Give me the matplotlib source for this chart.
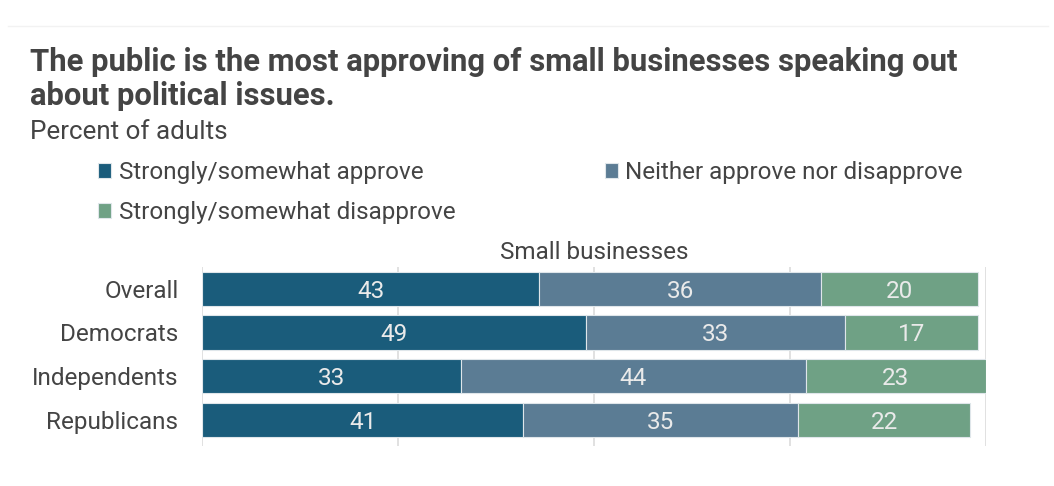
import matplotlib
matplotlib.use("Agg")
import matplotlib.pyplot as plt
from matplotlib.lines import Line2D
import numpy as np

plt.rcParams['font.family'] = ['Roboto', 'DejaVu Sans']

categories = ["Overall", "Democrats", "Independents", "Republicans"]
approve = [43, 49, 33, 41]
neither = [36, 33, 44, 35]
disapprove = [20, 17, 23, 22]
series_names = ["Strongly/somewhat approve", "Neither approve nor disapprove",
                "Strongly/somewhat disapprove"]
colors = ["#1a5c7b", "#5b7c94", "#6fa185"]
panel_title = "Small businesses"
title_lines = ["The public is the most approving of small businesses speaking out",
               "about political issues."]
subtitle = "Percent of adults"
grid_ticks = [0, 25, 50, 75, 100]

TXT = "#444444"
FS = 17.5

W, H = 1054, 486
fig = plt.figure(figsize=(W / 100, H / 100), dpi=100)

def fx(px):
    return px / W

def fy(py):
    return 1 - py / H

ax = fig.add_axes([fx(202), fy(446), fx(986) - fx(202), fy(267) - fy(446)])

y = np.arange(len(categories))
left = np.zeros(len(categories))
handles = []
for vals, c, name in zip([approve, neither, disapprove], colors, series_names):
    bars = ax.barh(y, vals, left=left, height=0.78, color=c, edgecolor="#dfe6ea",
                   linewidth=0.8, label=name, zorder=2)
    handles.append(bars)
    for b, v in zip(bars, vals):
        ax.text(b.get_x() + b.get_width() / 2, b.get_y() + b.get_height() / 2, f"{v}",
                ha="center", va="center_baseline", color="#eaeaea", fontsize=FS, zorder=3)
    left = left + np.array(vals)

ax.set_xlim(0, 100)
ax.set_ylim(3.6, -0.5)
ax.set_xticks(grid_ticks)
ax.xaxis.grid(True, color="#dcdcdc", linewidth=1.2, zorder=0)
ax.tick_params(axis="x", length=0, labelbottom=False)
ax.tick_params(axis="y", length=0, pad=17)
ax.set_yticks(y)
ax.set_yticklabels(categories, fontsize=FS, color=TXT)
for s in ax.spines.values():
    s.set_visible(False)

fig.text((fx(202) + fx(986)) / 2, fy(259), panel_title, fontsize=FS, color=TXT,
         ha="center", va="baseline")

fig.text(fx(30), fy(71), title_lines[0], fontsize=22.3, fontweight="bold", color=TXT,
         ha="left", va="baseline")
fig.text(fx(30), fy(105), title_lines[1], fontsize=22.3, fontweight="bold", color=TXT,
         ha="left", va="baseline")
fig.text(fx(30), fy(139), subtitle, fontsize=18.7, color=TXT, ha="left", va="baseline")

order = [0, 2, 1]
leg = fig.legend(handles=[handles[i] for i in order], labels=[series_names[i] for i in order],
                 loc="upper left", bbox_to_anchor=(fx(98), fy(161)), ncol=2, frameon=False,
                 fontsize=FS, labelcolor=TXT, handlelength=0.55, handleheight=0.55,
                 handletextpad=0.3, columnspacing=6.15, labelspacing=0.7,
                 borderpad=0, borderaxespad=0)

fig.add_artist(Line2D([fx(8), fx(1048)], [fy(26), fy(26)], color="#f2f2f2", linewidth=1))

fig.savefig("out.png", dpi=100, facecolor="white")
